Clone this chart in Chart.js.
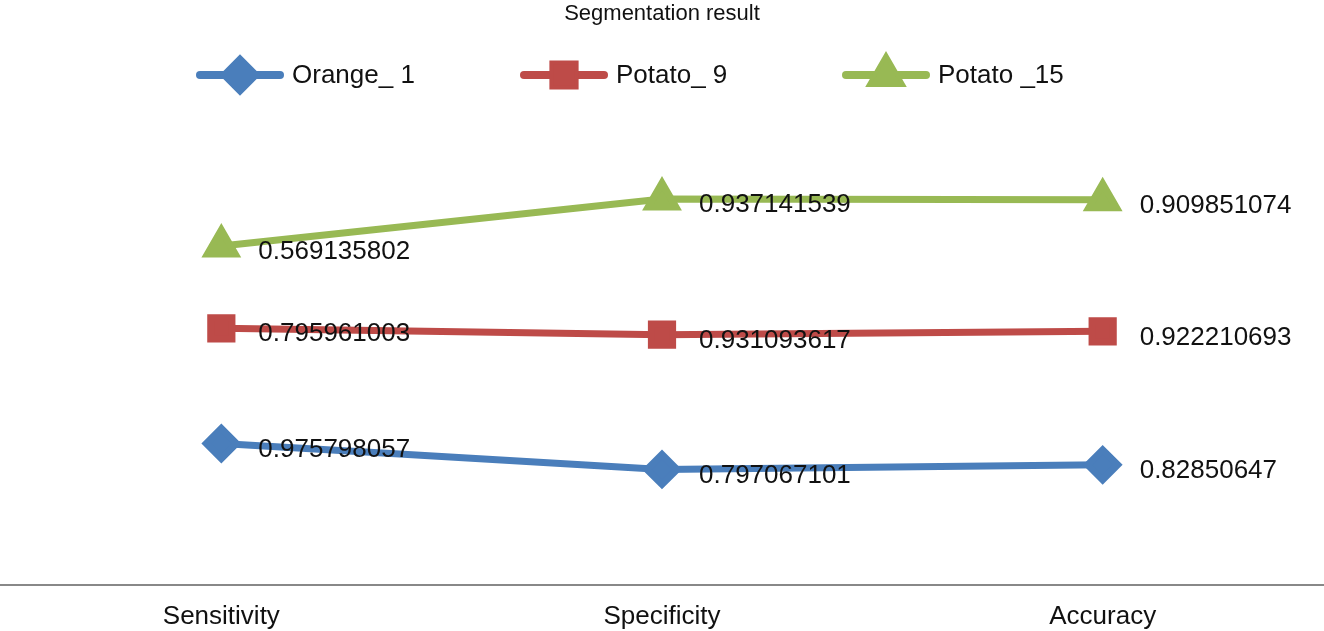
<!DOCTYPE html>
<html>
<head>
<meta charset="utf-8">
<script src="https://cdn.jsdelivr.net/npm/chart.js@4"></script>
<style>
  html, body { margin: 0; padding: 0; background: #fff; overflow: hidden; }
  #wrap { width: 1368px; height: 652px; position: absolute; left: -22px; top: 0; }
</style>
</head>
<body>
<div id="wrap"><canvas id="chart"></canvas></div>
<script>
// stacked line chart data (Excel style)
const categories = ['Sensitivity', 'Specificity', 'Accuracy'];
const orange1 = [0.975798057, 0.797067101, 0.82850647];
const potato9 = [0.795961003, 0.931093617, 0.922210693];
const potato15 = [0.569135802, 0.937141539, 0.909851074];
const seriesNames = ['Orange_ 1', 'Potato_ 9', 'Potato _15'];
const chartTitle = 'Segmentation result';

const FONT = '"Liberation Sans", Arial, sans-serif';

// value labels to the right of each point + custom legend
const labelsPlugin = {
    id: 'labels',
    afterDatasetsDraw(chart) {
        const ctx = chart.ctx;
        ctx.save();
        ctx.font = '26px ' + FONT;
        ctx.fillStyle = '#111';
        ctx.textBaseline = 'middle';
        ctx.textAlign = 'left';
        chart.data.datasets.forEach((ds, i) => {
            chart.getDatasetMeta(i).data.forEach((pt, j) => {
                ctx.fillText(String(ds.data[j]), pt.x + 37, pt.y + 6);
            });
        });
        // title
        ctx.font = '22px ' + FONT;
        ctx.textAlign = 'center';
        ctx.fillText(chartTitle, 662 + 22, 14);
        // legend
        const xs = [222, 546, 868];
        ctx.font = '26px ' + FONT;
        ctx.textAlign = 'left';
        chart.data.datasets.forEach((ds, i) => {
            const x = xs[i], y = 75;
            ctx.strokeStyle = ds.borderColor;
            ctx.lineWidth = 8;
            ctx.lineCap = 'round';
            ctx.beginPath(); ctx.moveTo(x, y); ctx.lineTo(x + 80, y); ctx.stroke();
            ctx.fillStyle = ds.borderColor;
            ctx.strokeStyle = ds.borderColor;
            Chart.helpers.drawPoint(ctx, {
                pointStyle: ds.pointStyle, radius: ds.pointRadius, borderWidth: 1,
                rotation: 0
            }, x + 40, y);
            ctx.fill();
            ctx.fillStyle = '#111';
            ctx.fillText(seriesNames[i], x + 92, y + 1);
        });
        ctx.restore();
    }
};

function makeSet(label, data, color, style, radius) {
    return {
        label: label,
        data: data,
        borderColor: color,
        backgroundColor: color,
        pointBackgroundColor: color,
        pointBorderColor: color,
        pointStyle: style,
        pointRadius: radius,
        pointHoverRadius: radius,
        borderWidth: 7,
        fill: false,
        tension: 0
    };
}

new Chart(document.getElementById('chart'), {
    type: 'line',
    data: {
        labels: categories,
        datasets: [
            makeSet(seriesNames[0], orange1, '#4a7ebb', 'rectRot', 15),
            makeSet(seriesNames[1], potato9, '#be4b48', 'rect', 15),
            makeSet(seriesNames[2], potato15, '#98b954', 'triangle', 16)
        ]
    },
    options: {
        responsive: true,
        maintainAspectRatio: false,
        animation: false,
        layout: { padding: { top: 110, left: 0, right: 0, bottom: 4 } },
        plugins: {
            legend: { display: false },
            tooltip: { enabled: false }
        },
        scales: {
            x: {
                offset: true,
                grid: { display: false, drawTicks: false },
                border: { color: '#888', width: 2 },
                ticks: { color: '#111', padding: 16, font: { size: 26, family: FONT } }
            },
            y: {
                display: false,
                stacked: true,
                min: 0,
                max: 3.28
            }
        }
    },
    plugins: [labelsPlugin]
});
</script>
</body>
</html>
